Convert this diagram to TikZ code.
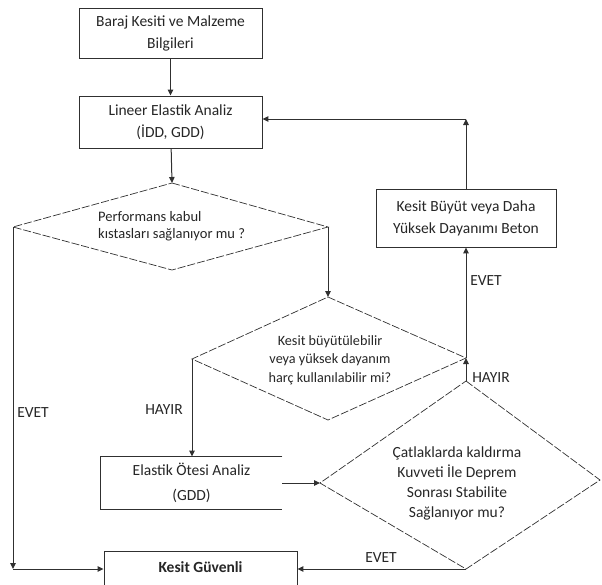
\documentclass[tikz,border=0pt]{standalone}
\usepackage{fontspec}
\setmainfont{Carlito}
\usetikzlibrary{arrows.meta}
\definecolor{txt}{HTML}{262626}
\definecolor{ln}{HTML}{303030}
\begin{document}
\begin{tikzpicture}[x=1pt,y=-1pt,
  box/.style={draw=ln,line width=0.9pt,fill=white,text=txt,align=center,inner sep=0pt,
    font=\fontsize{15.5}{22}\selectfont},
  dia/.style={draw=ln,line width=0.7pt,dash pattern=on 8pt off 2pt},
  dtext/.style={text=txt,inner sep=0pt},
  lab/.style={text=txt,inner sep=0pt,font=\fontsize{15.5}{18}\selectfont},
  arr/.style={draw=ln,line width=1pt,-{Triangle[length=6pt,width=5.5pt]}},
  conn/.style={draw=ln,line width=1pt}]
\useasboundingbox (0,0) rectangle (602,584);
\clip (0,0) rectangle (602,584);
% boxes
\node[box,minimum width=183pt,minimum height=50pt] (b1) at (170.5,33) {Baraj Kesiti ve Malzeme\\Bilgileri};
\node[box,minimum width=183pt,minimum height=52pt] (b2) at (170.5,122) {Lineer Elastik Analiz\\(İDD, GDD)};
\node[box,minimum width=180pt,minimum height=58pt] (b3) at (466,218) {Kesit Büyüt veya Daha\\Yüksek Dayanımı Beton};
\node[box,draw=none,minimum width=181pt,minimum height=52pt,font=\fontsize{15.5}{25}\selectfont] (b4) at (191.5,483) {Elastik Ötesi Analiz\\(GDD)};
\draw[ln,line width=0.9pt] (b4.north east) -- (b4.north west) -- (b4.south west) -- (b4.south east);
\node[box,minimum width=193pt,minimum height=36pt,font=\fontsize{15.5}{22}\selectfont\bfseries] (b5) at (200.5,569) {};
\node[dtext,font=\fontsize{15.5}{22}\selectfont\bfseries] (b5t) at (200.5,567) {Kesit Güvenli};
% diamonds
\coordinate (d1t) at (172,183);
\coordinate (d1r) at (328,227);
\coordinate (d1b) at (172,270);
\coordinate (d1l) at (13,227);
\draw[dia] (d1t) -- (d1r) -- (d1b) -- (d1l) -- cycle;
\node[dtext,anchor=west,align=left,font=\fontsize{14.5}{17}\selectfont] (d1x) at (98,226) {Performans kabul\\kıstasları sağlanıyor mu ?};
\coordinate (d2t) at (328,297);
\coordinate (d2r) at (466,358);
\coordinate (d2b) at (328,420);
\coordinate (d2l) at (192,359);
\draw[dia] (d2t) -- (d2r) -- (d2b) -- (d2l) -- cycle;
\node[dtext,align=center,font=\fontsize{14.2}{18.5}\selectfont] (d2x) at (330,360) {Kesit büyütülebilir\\veya yüksek dayanım\\harç kullanılabilir mi?};
\coordinate (d3t) at (466,381);
\coordinate (d3r) at (600,480);
\coordinate (d3b) at (466,569);
\coordinate (d3l) at (320,483);
\draw[dia] (d3t) -- (d3r) -- (d3b) -- (d3l) -- cycle;
\node[dtext,align=center,font=\fontsize{15.5}{20}\selectfont] (d3x) at (457,483) {Çatlaklarda kaldırma\\Kuvveti İle Deprem\\Sonrası Stabilite\\Sağlanıyor mu?};
% connectors
\coordinate (cL) at (13,569);
\coordinate (cT) at (466,119);
\draw[arr] (b1) -- (b2);
\draw[arr] (b2) -- (d1t);
\draw[arr] (d1l) -- (cL);
\draw[arr] (cL) -- (b5.west);
\draw[arr] (d1r) -- (d2t);
\draw[arr] (d2l) -- (b4.north -| d2l);
\draw[arr] (b4.east) -- (d3l);
\draw[arr] (d3t) -- (d2r);
\draw[arr] (d2r) -- (b3.south);
\draw[arr] (b3.north) -- (cT);
\draw[arr] (cT) -- (cT -| b2.east);
\draw[arr] (d3b) -- (b5.east);
% labels
\node[lab] (l1) at (33,413) {EVET};
\node[lab] (l2) at (164,410) {HAYIR};
\node[lab] (l3) at (491,378) {HAYIR};
\node[lab] (l4) at (486,281) {EVET};
\node[lab] (l5) at (381,558) {EVET};
\end{tikzpicture}
\end{document}
